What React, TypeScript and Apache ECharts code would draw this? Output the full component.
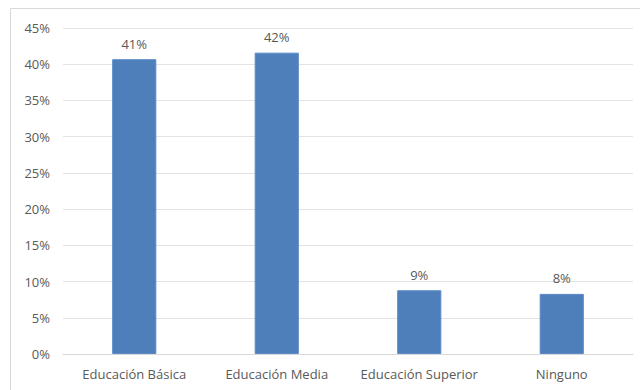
import React, { useEffect, useRef } from "react";
import * as echarts from "echarts";

const categories = ["Educación Básica", "Educación Media", "Educación Superior", "Ninguno"];
const values = [0.407, 0.416, 0.088, 0.083];
const yTicks = [0, 0.05, 0.1, 0.15, 0.2, 0.25, 0.3, 0.35, 0.4, 0.45];

export default function App() {
  const ref = useRef<HTMLDivElement>(null);
  useEffect(() => {
    if (!ref.current) return;
    const chart = echarts.init(ref.current, null, { renderer: "svg" });
    const font = "Open Sans";
    chart.setOption({
      animation: false,
      backgroundColor: "#ffffff",
      graphic: [
        {
          type: "rect",
          shape: { x: 10.5, y: 8.5, width: 640, height: 400 },
          style: { fill: "none", stroke: "#d9d9d9", lineWidth: 1 },
          silent: true,
        },
      ],
      grid: { left: 63, right: 7, top: 28, bottom: 36, containLabel: false },
      xAxis: {
        type: "category",
        data: categories,
        axisLine: { show: true, lineStyle: { color: "#d9d9d9", width: 1 } },
        axisTick: { show: false },
        axisLabel: {
          interval: 0,
          hideOverlap: false,
          color: "#595959",
          fontSize: 13,
          fontFamily: font,
          margin: 13,
        },
      },
      yAxis: {
        type: "value",
        min: 0,
        max: yTicks[yTicks.length - 1],
        interval: 0.05,
        axisLine: { show: false },
        axisTick: { show: false },
        splitLine: { lineStyle: { color: "#e3e3e3", width: 1 } },
        axisLabel: {
          color: "#595959",
          fontSize: 13,
          fontFamily: font,
          margin: 13,
          formatter: (v: number) => Math.round(v * 100) + "%",
        },
      },
      series: [
        {
          type: "bar",
          data: values,
          barWidth: "31%",
          itemStyle: { color: "#4e7fbb", borderColor: "#5b8cc8", borderWidth: 1 },
          label: {
            show: true,
            position: "top",
            distance: 9,
            color: "#595959",
            fontSize: 13,
            fontFamily: font,
            formatter: (p: any) => Math.round(p.value * 100) + "%",
          },
        },
      ],
    });
    return () => chart.dispose();
  }, []);
  return (
    <div
      ref={ref}
      style={{ position: "absolute", left: 0, top: 0, width: 640, height: 390 }}
    />
  );
}
